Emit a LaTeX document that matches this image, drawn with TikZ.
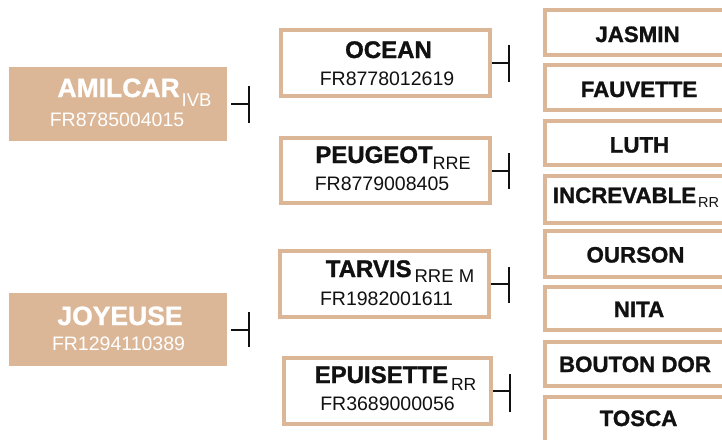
\documentclass[tikz,border=0pt]{standalone}
\usepackage{fontspec}
\setmainfont{Liberation Sans}[BoldFeatures={FakeBold=1.2}]
\definecolor{boxtan}{HTML}{DBB797}
\definecolor{ink}{HTML}{111111}
\newcommand\subtxt[3]{\raisebox{-#1pt}{\fontsize{#2}{#2}\selectfont\mdseries #3}}
\begin{document}
\begin{tikzpicture}[x=1pt,y=-1pt,
  leftbox/.style={fill=boxtan, draw=none, inner sep=0, minimum width=218pt, minimum height=74pt},
  midbox/.style={draw=boxtan, line width=4pt, fill=white, inner sep=0, minimum width=209pt, minimum height=66pt},
  rightbox/.style={draw=boxtan, line width=4pt, fill=white, inner sep=0, minimum width=184pt, minimum height=45pt},
  ltitle/.style={anchor=base, inner sep=0, text=white, font=\fontsize{26.5}{26.5}\selectfont\bfseries},
  lcode/.style={anchor=base, inner sep=0, text=white, font=\fontsize{19.5}{19.5}\selectfont},
  mtitle/.style={anchor=base, inner sep=0, text=ink, font=\fontsize{24}{24}\selectfont\bfseries},
  mcode/.style={anchor=base, inner sep=0, text=ink, font=\fontsize{19.5}{19.5}\selectfont},
  rtitle/.style={anchor=base, inner sep=0, text=ink, font=\fontsize{22.3}{22.3}\selectfont\bfseries},
  conn/.style={draw=ink, line width=2pt}
]
\useasboundingbox (0,0) rectangle (722,439);
\clip (0,0) rectangle (722,439);

% left boxes
\node[leftbox] (am) at (118,104) {};
\node[ltitle] (amT) at (134.5,97) {AMILCAR\hspace{2pt}\subtxt{9}{18.5}{IVB}};
\node[lcode] (amC) at (117,126) {FR8785004015};

\node[leftbox, minimum height=73pt] (jo) at (118,329.5) {};
\node[ltitle] (joT) at (120,325) {JOYEUSE};
\node[lcode] (joC) at (118.5,350) {FR1294110389};

% middle boxes
\node[midbox] (oc) at (385.5,63) {};
\node[mtitle] (ocT) at (388.5,58) {OCEAN};
\node[mcode] (ocC) at (387,85) {FR8778012619};

\node[midbox, minimum height=65pt] (pe) at (385.5,170.5) {};
\node[mtitle] (peT) at (393,163) {PEUGEOT\subtxt{6}{18}{RRE}};
\node[mcode] (peC) at (382,190) {FR8779008405};

\node[midbox] (ta) at (384.5,284) {};
\node[mtitle] (taT) at (400,277) {TARVIS\hspace{3pt}\subtxt{5}{18.5}{RRE M}};
\node[mcode] (taC) at (386.5,305) {FR1982001611};

\node[midbox, minimum width=207pt] (ep) at (387.5,391) {};
\node[mtitle] (epT) at (395.5,383) {EPUISETTE\hspace{3pt}\subtxt{7}{17.5}{RR}};
\node[mcode] (epC) at (387.5,410) {FR3689000056};

% right boxes
\node[rightbox] (r1) at (637,32.5) {};
\node[rtitle] (r1T) at (637.5,42) {JASMIN};
\node[rightbox] (r2) at (637,87.5) {};
\node[rtitle] (r2T) at (639,97) {FAUVETTE};
\node[rightbox, minimum height=44pt] (r3) at (637,143) {};
\node[rtitle] (r3T) at (639.5,152.5) {LUTH};
\node[rightbox, minimum height=47pt] (r4) at (637,199.5) {};
\node[rtitle] (r4T) at (636,203) {INCREVABLE\hspace{2pt}\subtxt{4.5}{14.5}{RR}};
\node[rightbox, minimum height=46pt] (r5) at (637,254) {};
\node[rtitle] (r5T) at (635.5,262.5) {OURSON};
\node[rightbox, minimum height=43pt] (r6) at (637,308.5) {};
\node[rtitle] (r6T) at (639,317) {NITA};
\node[rightbox, minimum height=44pt] (r7) at (637,364) {};
\node[rtitle] (r7T) at (635,372) {BOUTON DOR};
\node[rightbox, minimum height=45pt] (r8) at (637,419.5) {};
\node[rtitle] (r8T) at (638.5,426) {TOSCA};

% connectors
\coordinate (amU) at (249,86);  \coordinate (amD) at (249,123);
\coordinate (joU) at (249,312); \coordinate (joD) at (249,347);
\coordinate (ocU) at (509,45);  \coordinate (ocD) at (509,82);
\coordinate (peU) at (509,153); \coordinate (peD) at (509,189);
\coordinate (taU) at (509,267); \coordinate (taD) at (509,303);
\coordinate (epU) at (510,374); \coordinate (epD) at (510,412);

\draw[conn] ([xshift=4pt]am.east) -- (am.east -| amU);
\draw[conn] (amU) -- (amD);
\draw[conn] ([xshift=4pt]jo.east) -- (jo.east -| joU);
\draw[conn] (joU) -- (joD);
\draw[conn] (oc.east) -- (oc.east -| ocU);
\draw[conn] (ocU) -- (ocD);
\draw[conn] (pe.east) -- (pe.east -| peU);
\draw[conn] (peU) -- (peD);
\draw[conn] (ta.east) -- (ta.east -| taU);
\draw[conn] (taU) -- (taD);
\draw[conn] (ep.east) -- (ep.east -| epU);
\draw[conn] (epU) -- (epD);
\end{tikzpicture}
\end{document}
